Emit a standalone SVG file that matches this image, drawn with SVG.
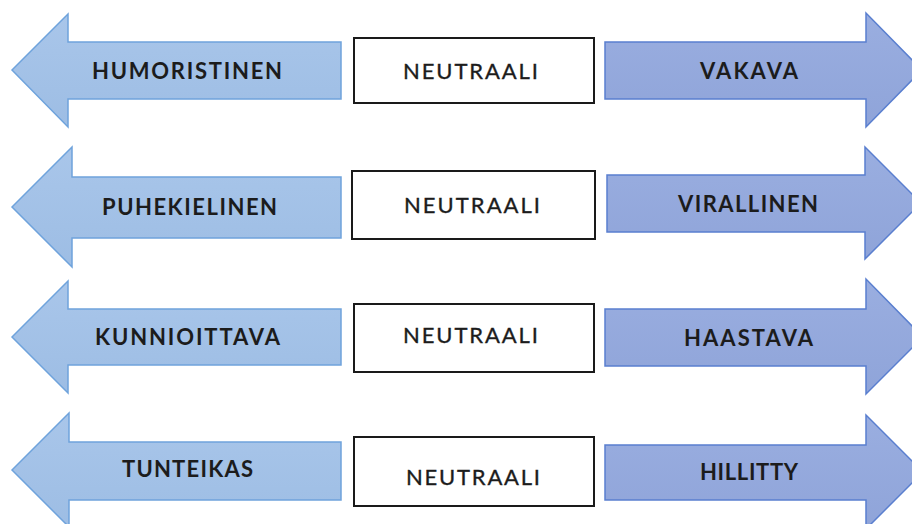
<svg xmlns="http://www.w3.org/2000/svg" width="912" height="524" viewBox="0 0 912 524">
<defs>
<linearGradient id="gl" x1="0" y1="0" x2="0" y2="1">
<stop offset="0" stop-color="#a9c6ea"/>
<stop offset="1" stop-color="#9dbde4"/>
</linearGradient>
<linearGradient id="gr" x1="0" y1="0" x2="0" y2="1">
<stop offset="0" stop-color="#9aaee0"/>
<stop offset="1" stop-color="#8fa4d9"/>
</linearGradient>
</defs>
<style>
.la{fill:url(#gl);stroke:#6fa3dc;stroke-width:1.5}
.ra{fill:url(#gr);stroke:#5a7fcf;stroke-width:1.5}
.box{fill:#ffffff;stroke:#1a1a1a;stroke-width:2}
.lbl{font-family:Lato,"Liberation Sans",Arial,sans-serif;font-size:22px;font-weight:bold;fill:#1c1c1c;text-anchor:middle}
.neu{font-family:Lato,"Liberation Sans",Arial,sans-serif;font-size:22px;font-weight:normal;fill:#1c1c1c;stroke:#1c1c1c;stroke-width:0.35;text-anchor:middle}
</style>
<rect width="912" height="524" fill="#ffffff"/>
<g id="row1-left">
<path class="la" d="M12,70 L68,14 L68,42 L341,42 L341,99 L68,99 L68,127 Z"/>
<text class="lbl" x="187" y="78.5" textLength="190" lengthAdjust="spacing">HUMORISTINEN</text>
</g>
<g id="row1-mid">
<rect class="box" x="354" y="38" width="240" height="65"/>
<text class="neu" x="470.5" y="78.5" textLength="135" lengthAdjust="spacing">NEUTRAALI</text>
</g>
<g id="row1-right">
<path class="ra" d="M605,42 L866,42 L866,13 L922,70 L866,127 L866,99 L605,99 Z"/>
<text class="lbl" x="749" y="78.5" textLength="98" lengthAdjust="spacing">VAKAVA</text>
</g>
<g id="row2-left">
<path class="la" d="M12,207 L72,147 L72,177 L341,177 L341,238 L72,238 L72,267 Z"/>
<text class="lbl" x="189.5" y="214.5" textLength="175" lengthAdjust="spacing">PUHEKIELINEN</text>
</g>
<g id="row2-mid">
<rect class="box" x="352" y="171" width="243" height="68"/>
<text class="neu" x="472" y="212.5" textLength="136" lengthAdjust="spacing">NEUTRAALI</text>
</g>
<g id="row2-right">
<path class="ra" d="M607,175 L865,175 L865,147 L921,203 L865,259 L865,232 L607,232 Z"/>
<text class="lbl" x="748" y="211.5" textLength="140" lengthAdjust="spacing">VIRALLINEN</text>
</g>
<g id="row3-left">
<path class="la" d="M12,337 L68,281 L68,309 L341,309 L341,365 L68,365 L68,393 Z"/>
<text class="lbl" x="187.5" y="344.5" textLength="185" lengthAdjust="spacing">KUNNIOITTAVA</text>
</g>
<g id="row3-mid">
<rect class="box" x="354" y="304" width="240" height="68"/>
<text class="neu" x="470.5" y="342.5" textLength="135" lengthAdjust="spacing">NEUTRAALI</text>
</g>
<g id="row3-right">
<path class="ra" d="M605,309 L866,309 L866,279 L923,337 L866,394 L866,366 L605,366 Z"/>
<text class="lbl" x="748.5" y="345.5" textLength="129" lengthAdjust="spacing">HAASTAVA</text>
</g>
<g id="row4-left">
<path class="la" d="M12,470 L69,413 L69,442 L341,442 L341,500 L69,500 L69,527 Z"/>
<text class="lbl" x="187.5" y="476.5" textLength="131" lengthAdjust="spacing">TUNTEIKAS</text>
</g>
<g id="row4-mid">
<rect class="box" x="354" y="437" width="240" height="69"/>
<text class="neu" x="473" y="484.5" textLength="134" lengthAdjust="spacing">NEUTRAALI</text>
</g>
<g id="row4-right">
<path class="ra" d="M605,445 L866,445 L866,415 L923,472 L866,529 L866,500 L605,500 Z"/>
<text class="lbl" x="749" y="479.5" textLength="98" lengthAdjust="spacing">HILLITTY</text>
</g>
<g id="connectors"/>
</svg>
